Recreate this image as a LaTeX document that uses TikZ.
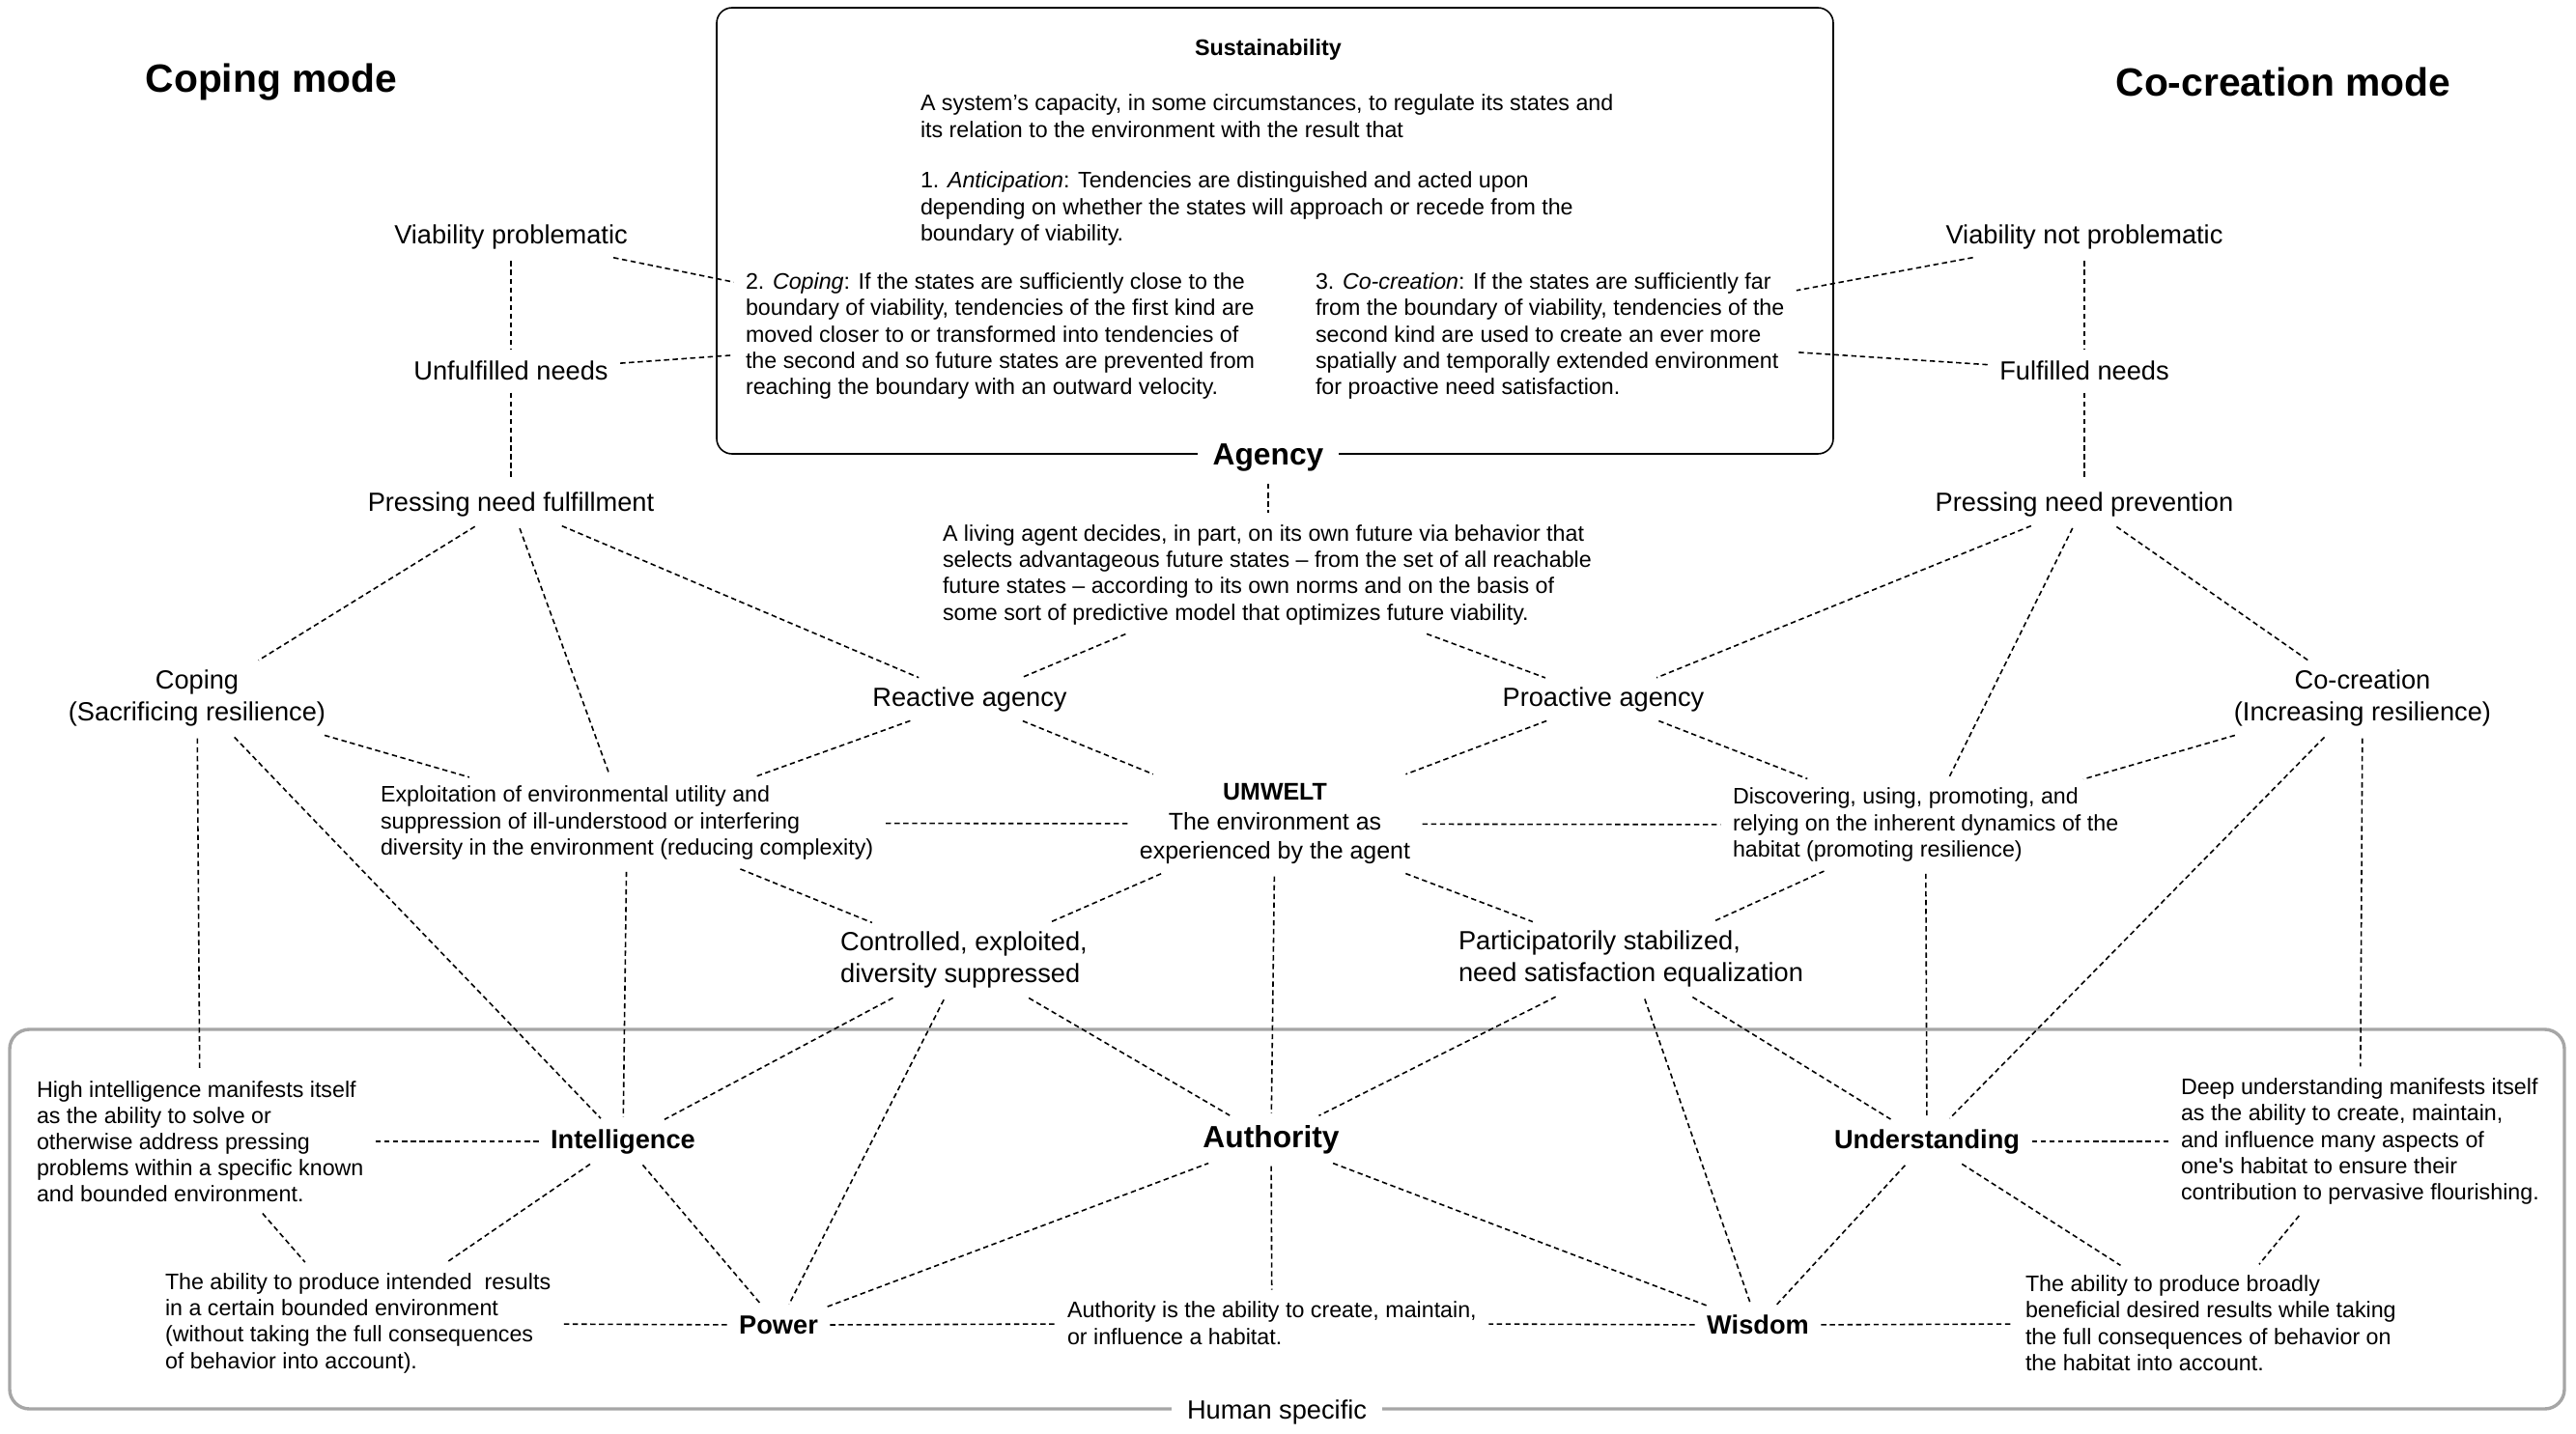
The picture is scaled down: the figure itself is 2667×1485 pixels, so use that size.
\documentclass[tikz,border=0pt]{standalone}
\usepackage{fontspec}
\setmainfont{Liberation Sans}

\begin{document}
\begin{tikzpicture}[x=0.441pt, y=-0.441pt, font=\fontsize{12}{14.4}\selectfont,
        every node/.style={yshift=-1.4pt},
        note/.style={font=\fontsize{10.25}{12}\selectfont, align=left, anchor=west},
        key/.style={font=\bfseries\fontsize{12}{14.4}\selectfont},
        link/.style={dash pattern=on 2.4pt off 1.6pt, line width=0.7pt, shorten <=2pt, shorten >=2pt}]
    \useasboundingbox (0,0) rectangle (2667,1485);
    \draw [rounded corners=7pt, line width=0.7pt] (742,8) rectangle (1898,470);
    \draw [rounded corners=9pt, line width=1.5pt, gray!70] (10,1066) rectangle (2655,1459);

    \node [font=\bfseries\fontsize{18}{21.6}\selectfont] (copmode) at (281,82) {Coping mode};
    \node [font=\bfseries\fontsize{18}{21.6}\selectfont] (comode) at (2364,82) {Co-creation mode};

    \node [font=\bfseries\fontsize{10.3}{12}\selectfont] (sust) at (1313,48) {Sustainability};
    \node [note] (sdef) at (945,117) {A system’s capacity, in some circumstances, to regulate its states and\\
        its relation to the environment with the result that};
    \node [note] (santi) at (945,213) {1. \textit{Anticipation}: Tendencies are distinguished and acted upon\\
        depending on whether the states will approach or recede from the\\
        boundary of viability.};
    \node [note] (scope) at (764,345) {2. \textit{Coping}: If the states are sufficiently close to the\\
        boundary of viability, tendencies of the first kind are\\
        moved closer to or transformed into tendencies of\\
        the second and so future states are prevented from\\
        reaching the boundary with an outward velocity.};
    \node [note] (scocre) at (1354,345) {3. \textit{Co-creation}: If the states are sufficiently far\\
        from the boundary of viability, tendencies of the\\
        second kind are used to create an ever more\\
        spatially and temporally extended environment\\
        for proactive need satisfaction.};
    \node [key, font=\bfseries\fontsize{14}{16.8}\selectfont, fill=white, inner xsep=7pt] (agency) at (1313,471) {Agency};
    \node [note] (agdesc) at (968,592) {A living agent decides, in part, on its own future via behavior that\\
        selects advantageous future states -- from the set of all reachable\\
        future states -- according to its own norms and on the basis of\\
        some sort of predictive model that optimizes future viability.};

    \node (vprob) at (529,242) {Viability problematic};
    \node (unful) at (529,381) {Unfulfilled needs};
    \node (pnf) at (529,519) {Pressing need fulfillment};
    \node (vnprob) at (2158,242) {Viability not problematic};
    \node (ful) at (2158,381) {Fulfilled needs};
    \node (pnp) at (2158,519) {Pressing need prevention};

    \node [align=center] (coping) at (204,720) {Coping\\(Sacrificing resilience)};
    \node [align=center] (cocre) at (2446,720) {Co-creation\\(Increasing resilience)};
    \node (reactive) at (1004,721) {Reactive agency};
    \node (proactive) at (1660,721) {Proactive agency};

    \node [note] (exploit) at (386,849) {Exploitation of environmental utility and\\
        suppression of ill-understood or interfering\\
        diversity in the environment (reducing complexity)};
    \node [align=center, font=\fontsize{11}{13.5}\selectfont] (umwelt) at (1320,850) {\textbf{UMWELT}\\The environment as\\experienced by the agent};
    \node [note] (discover) at (1786,851) {Discovering, using, promoting, and\\
        relying on the inherent dynamics of the\\
        habitat (promoting resilience)};
    \node [align=left] (controlled) at (998,991) {Controlled, exploited,\\diversity suppressed};
    \node [align=left, anchor=west] (partic) at (1502,990) {Participatorily stabilized,\\need satisfaction equalization};

    \node [key] (intel) at (645,1179) {Intelligence};
    \node [key, font=\bfseries\fontsize{14}{16.8}\selectfont] (auth) at (1316,1177) {Authority};
    \node [key] (under) at (1995,1179) {Understanding};
    \node [key] (power) at (806,1369) {Power};
    \node [key] (wisdom) at (1820,1369) {Wisdom};

    \node [note] (hightext) at (30,1179) {High intelligence manifests itself\\
        as the ability to solve or\\
        otherwise address pressing\\
        problems within a specific known\\
        and bounded environment.};
    \node [note] (abilityl) at (163,1367) {The ability to produce intended~ results\\
        in a certain bounded environment\\
        (without taking the full consequences\\
        of behavior into account).};
    \node [note] (authtext) at (1097,1367) {Authority is the ability to create, maintain,\\
        or influence a habitat.};
    \node [note] (deeptext) at (2250,1179) {Deep understanding manifests itself\\
        as the ability to create, maintain,\\
        and influence many aspects of\\
        one\textquotesingle s habitat to ensure their\\
        contribution to pervasive flourishing.};
    \node [note] (broadtext) at (2089,1367) {The ability to produce broadly\\
        beneficial desired results while taking\\
        the full consequences of behavior on\\
        the habitat into account.};
    \node [fill=white, inner xsep=7pt] (human) at (1322,1459) {Human specific};

    \path [link] (vprob) edge (unful) edge (scope);
    \path [link] (unful) edge (pnf) edge (scope);
    \path [link] (vnprob) edge (ful) edge (scocre);
    \path [link] (ful) edge (pnp) edge (scocre);
    \path [link] (agency) edge (agency |- agdesc.north);
    \path [link] (agdesc) edge (reactive) edge (proactive);
    \path [link] (pnf) edge (coping) edge (exploit) edge (reactive);
    \path [link] (pnp) edge (proactive) edge (discover) edge (cocre);
    \path [link] (coping) edge (exploit) edge (intel) edge (hightext);
    \path [link] (cocre) edge (discover) edge (under) edge (deeptext);
    \path [link] (reactive) edge (exploit) edge (umwelt);
    \path [link] (proactive) edge (umwelt) edge (discover);
    \path [link] (umwelt) edge (exploit) edge (discover) edge (controlled) edge (auth) edge (partic);
    \path [link] (exploit) edge (controlled) edge (intel);
    \path [link] (discover) edge (partic) edge (under);
    \path [link] (controlled) edge (intel) edge (power) edge (auth);
    \path [link] (partic) edge (auth) edge (wisdom) edge (under);
    \path [link] (intel) edge (hightext) edge (power) edge (abilityl);
    \path [link] (hightext) edge (abilityl);
    \path [link] (power) edge (abilityl) edge (authtext) edge (auth);
    \path [link] (auth) edge (authtext) edge (wisdom);
    \path [link] (wisdom) edge (authtext) edge (under) edge (broadtext);
    \path [link] (under) edge (deeptext) edge (broadtext);
    \path [link] (deeptext) edge (broadtext);
\end{tikzpicture}
\end{document}
